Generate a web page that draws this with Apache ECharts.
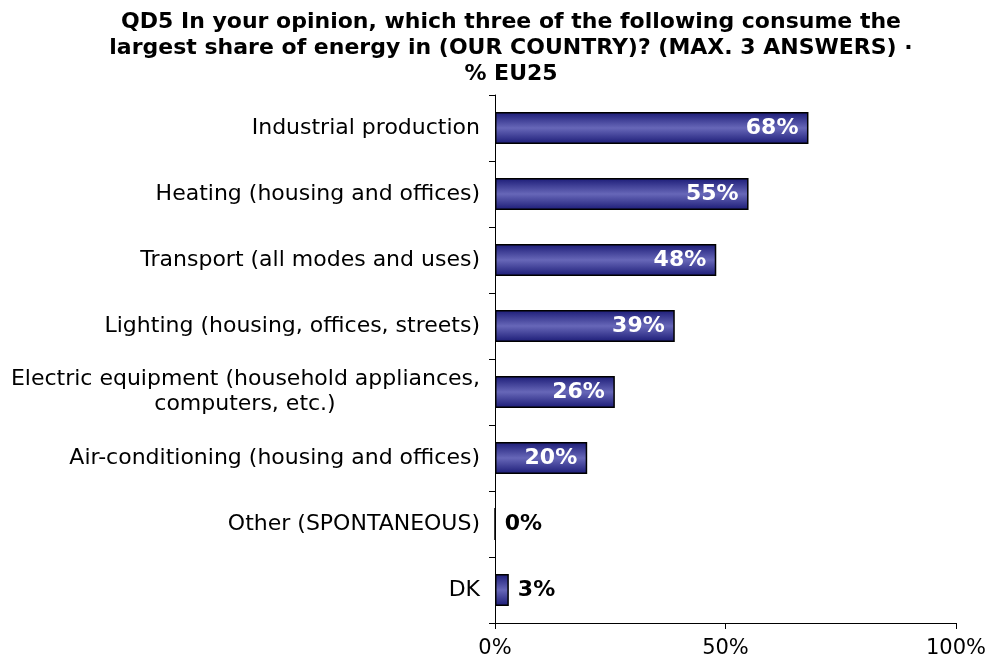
<!DOCTYPE html>
<html>
<head>
<meta charset="utf-8">
<script src="https://cdn.jsdelivr.net/npm/echarts@6/dist/echarts.min.js"></script>
<style>
  html, body { margin: 0; padding: 0; background: #fff; }
  #chart { width: 989px; height: 663px; }
</style>
</head>
<body>
<div id="chart"></div>
<script>
const titleText = 'QD5 In your opinion, which three of the following consume the\nlargest share of energy in (OUR COUNTRY)? (MAX. 3 ANSWERS) ·\n% EU25';
const categories = [
  'Industrial production',
  'Heating (housing and offices)',
  'Transport (all modes and uses)',
  'Lighting (housing, offices, streets)',
  'Electric equipment (household appliances,\ncomputers, etc.)',
  'Air-conditioning (housing and offices)',
  'Other (SPONTANEOUS)',
  'DK'
];
const values = [68, 55, 48, 39, 26, 20, 0, 3];
const xTicks = [0, 50, 100];

const FONT = 'DejaVu Sans';
const labelSize = 22;

// measure a line so the second line of a wrapped category label can be centred under the first
function textWidth(str, font) {
  const c = document.createElement('canvas').getContext('2d');
  c.font = font;
  return c.measureText(str).width;
}

const barFill = {
  type: 'linear', x: 0, y: 0, x2: 0, y2: 1,
  colorStops: [
    { offset: 0, color: '#1b1b76' },
    { offset: 0.5, color: '#6767b8' },
    { offset: 1, color: '#1b1b76' }
  ]
};

const seriesData = values.map(v => ({
  value: v,
  label: v >= 10
    ? { position: 'insideRight', color: '#ffffff', distance: 10 }
    : { position: 'right', color: '#000000', distance: 9 }
}));

const wrappedFirst = categories[4].split('\n')[0];

const chart = echarts.init(document.getElementById('chart'));
chart.setOption({
  animation: false,
  backgroundColor: '#ffffff',
  title: {
    text: titleText,
    left: 506,
    top: 4,
    textAlign: 'center',
    textStyle: {
      fontFamily: FONT, fontWeight: 'bold', fontSize: 22,
      lineHeight: 26, color: '#000'
    }
  },
  grid: { left: 495, right: 32, top: 95, bottom: 40, containLabel: false },
  xAxis: {
    type: 'value',
    min: 0, max: 100, interval: 50,
    axisLine: { show: true, lineStyle: { color: '#000', width: 1 } },
    axisTick: { show: true, length: 6, lineStyle: { color: '#000' } },
    splitLine: { show: false },
    axisLabel: {
      formatter: v => xTicks.includes(v) ? v + '%' : '',
      fontFamily: FONT, fontSize: 21, color: '#000', margin: 15
    }
  },
  yAxis: {
    type: 'category',
    inverse: true,
    data: categories,
    axisLine: { show: true, lineStyle: { color: '#000', width: 1 } },
    axisTick: { show: true, length: 6, alignWithLabel: false, lineStyle: { color: '#000' } },
    axisLabel: {
      fontFamily: FONT, fontSize: labelSize, color: '#000', margin: 15,
      lineHeight: 25,
      formatter: function (v) {
        const parts = v.split('\n');
        if (parts.length < 2) return v;
        return '{a|' + parts[0] + '}\n{b|' + parts[1] + '}';
      },
      rich: {
        a: { fontFamily: FONT, fontSize: labelSize, color: '#000', lineHeight: 25 },
        b: {
          fontFamily: FONT, fontSize: labelSize, color: '#000', lineHeight: 25,
          align: 'center',
          width: Math.ceil(textWidth(wrappedFirst, labelSize + 'px "' + FONT + '"'))
        }
      }
    }
  },
  series: [{
    type: 'bar',
    data: seriesData,
    barWidth: 32,
    itemStyle: { color: barFill, borderColor: '#000', borderWidth: 1.5 },
    label: {
      show: true,
      formatter: '{c}%',
      fontFamily: FONT, fontWeight: 'bold', fontSize: 22
    }
  }]
});
</script>
</body>
</html>
